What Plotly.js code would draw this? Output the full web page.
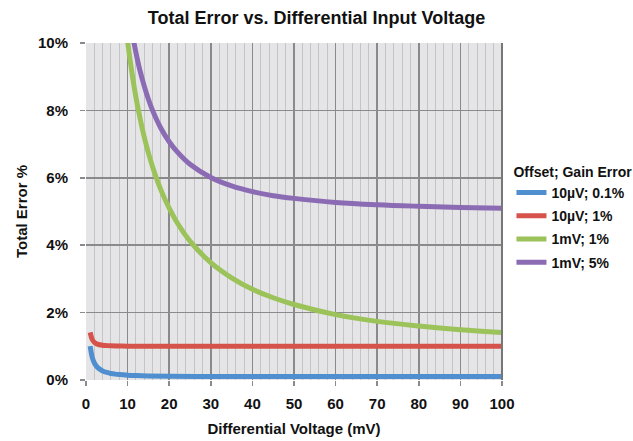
<!DOCTYPE html>
<html>
<head>
<meta charset="utf-8">
<script src="https://cdn.plot.ly/plotly-3.0.1.min.js"></script>
<style>html,body{margin:0;padding:0;background:#fff;}#chart{width:633px;height:441px;}</style>
</head>
<body>
<div id="chart"></div>
<script>
// Series names
var seriesNames = ["10µV; 0.1%", "10µV; 1%", "1mV; 1%", "1mV; 5%"];

// 10µV; 0.1%
var blueX = [1, 1.5, 2, 2.5, 3, 4, 5, 6, 7, 8, 10, 12, 15, 20, 30, 40, 50, 70, 100];
var blueY = [1.005, 0.673, 0.51, 0.412, 0.348, 0.269, 0.224, 0.194, 0.174, 0.160, 0.141, 0.130, 0.120, 0.112, 0.105, 0.103, 0.102, 0.101, 0.1005];

// 10µV; 1%
var redX = [1, 1.5, 2, 2.5, 3, 4, 5, 6, 8, 10, 15, 20, 50, 100];
var redY = [1.414, 1.202, 1.118, 1.077, 1.054, 1.031, 1.020, 1.014, 1.008, 1.005, 1.002, 1.001, 1.0, 1.0];

// 1mV; 1%
var greenX = [9, 10, 11, 12, 13, 14, 15, 16, 18, 20, 22, 25, 30, 35, 40, 45, 50, 60, 70, 80, 90, 100];
var greenY = [11.15, 10.05, 9.15, 8.39, 7.76, 7.21, 6.74, 6.33, 5.64, 5.10, 4.65, 4.12, 3.48, 3.03, 2.69, 2.44, 2.24, 1.94, 1.74, 1.60, 1.49, 1.41];

// 1mV; 5%
var purpleX = [10, 11, 12, 13, 14, 15, 16, 18, 20, 22, 25, 30, 35, 40, 45, 50, 60, 70, 80, 90, 100];
var purpleY = [11.18, 10.37, 9.72, 9.17, 8.72, 8.33, 8.00, 7.47, 7.07, 6.76, 6.40, 6.01, 5.76, 5.59, 5.47, 5.39, 5.27, 5.20, 5.155, 5.12, 5.10];

// Tick labels
var xTicks = [0, 10, 20, 30, 40, 50, 60, 70, 80, 90, 100];
var yTicks = [0, 2, 4, 6, 8, 10];
var yTickText = ["0%", "2%", "4%", "6%", "8%", "10%"];

var colors = ["#4f8fcf", "#d6534c", "#9cc25a", "#8b6bb3"];
var FONT = "'Liberation Sans Narrow', 'Arial Narrow', 'Liberation Sans', Arial, sans-serif";

var xs = [blueX, redX, greenX, purpleX];
var ys = [blueY, redY, greenY, purpleY];
var data = [];
for (var i = 0; i < 4; i++) {
  data.push({
    x: xs[i], y: ys[i], type: "scatter", mode: "lines",
    name: "<b>" + seriesNames[i] + "</b>",
    legendgroup: "g" + i,
    line: {color: colors[i], width: 5, shape: "spline", smoothing: 1}
  });
}

var layout = {
  width: 633, height: 441,
  margin: {l: 86, r: 131, t: 43, b: 61, autoexpand: false},
  paper_bgcolor: "#ffffff",
  plot_bgcolor: "#e5e5e7",
  font: {family: FONT, color: "#111", size: 14},
  title: {
    text: "<b>Total Error vs. Differential Input Voltage</b>",
    font: {family: FONT, size: 18, color: "#111"},
    x: 0.5, xanchor: "center", y: 0.96, yanchor: "middle"
  },
  xaxis: {
    range: [0, 100], tickvals: xTicks, ticktext: xTicks.map(function(v){return "<b>" + v + "</b>";}),
    showgrid: true, gridcolor: "#8a8a8a", gridwidth: 1.5,
    ticks: "outside", ticklen: 5, tickcolor: "#8a8a8a", tickwidth: 1.5,
    ticklabelstandoff: 5,
    minor: {dtick: 2, showgrid: true, gridcolor: "#c4c4c6", gridwidth: 1, ticks: ""},
    zeroline: false, showline: false,
    tickfont: {family: FONT, size: 15, color: "#111"},
    title: {text: "<b>Differential Voltage (mV)</b>", font: {family: FONT, size: 15, color: "#111"}, standoff: 12},
    fixedrange: true
  },
  yaxis: {
    range: [0, 10], tickvals: yTicks, ticktext: yTickText.map(function(v){return "<b>" + v + "</b>";}),
    showgrid: true, gridcolor: "#8a8a8a", gridwidth: 1.5,
    ticks: "outside", ticklen: 5, tickcolor: "#8a8a8a", tickwidth: 1.5,
    ticklabelstandoff: 9,
    zeroline: false, showline: false,
    tickfont: {family: FONT, size: 15, color: "#111"},
    title: {text: "<b>Total Error %</b>", font: {family: FONT, size: 15, color: "#111"}, standoff: 6},
    fixedrange: true
  },
  showlegend: true,
  legend: {
    xref: "container", yref: "container",
    x: 0.808, xanchor: "left", y: 0.64, yanchor: "top",
    bgcolor: "rgba(0,0,0,0)",
    traceorder: "grouped",
    title: {text: "<b>Offset; Gain Error</b>", font: {family: FONT, size: 14, color: "#111"}},
    font: {family: FONT, size: 14, color: "#111"},
    itemwidth: 30, tracegroupgap: 2
  },
  shapes: [
    {type: "line", xref: "paper", yref: "paper", x0: 1, x1: 1, y0: 0, y1: 1, line: {color: "#777", width: 2}}
  ]
};

Plotly.newPlot("chart", data, layout, {displayModeBar: false, staticPlot: true});
</script>
</body>
</html>
